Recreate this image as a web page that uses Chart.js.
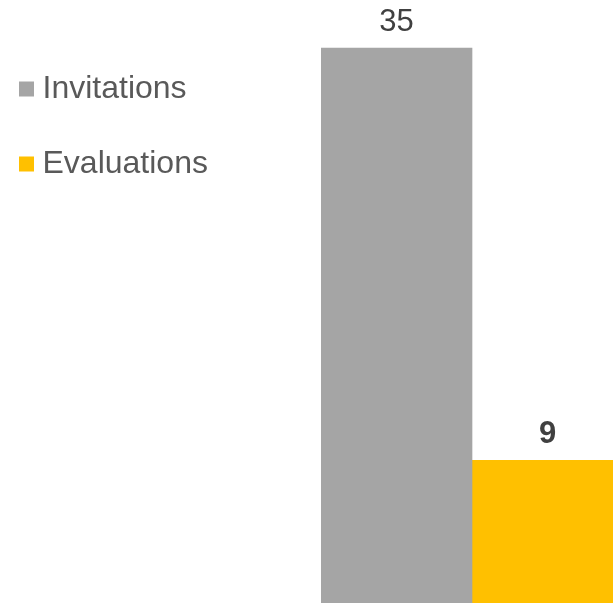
<!DOCTYPE html>
<html>
<head>
<meta charset="utf-8">
<script src="https://cdn.jsdelivr.net/npm/chart.js@4/dist/chart.umd.min.js"></script>
<style>
  html, body { margin: 0; padding: 0; overflow: hidden; background: #fff; }
  #wrap { width: 613px; height: 603px; overflow: hidden; }
</style>
</head>
<body>
<div id="wrap"><canvas id="chart" width="623" height="603"></canvas></div>
<script>
const categories = [''];
const seriesNames = ['Invitations', 'Evaluations'];
const invitations = [35];
const evaluations = [9];
const seriesColors = ['#a5a5a5', '#ffc000'];

// value labels above bars, second one bold like the original
const valueLabels = {
  id: 'valueLabels',
  afterDatasetsDraw(chart, _args, opts) {
    const { ctx } = chart;
    chart.data.datasets.forEach((ds, i) => {
      const meta = chart.getDatasetMeta(i);
      meta.data.forEach((bar, j) => {
        ctx.save();
        ctx.font = `${opts.weights[i]} 31px "Liberation Sans", Arial, sans-serif`;
        ctx.fillStyle = '#404040';
        ctx.textAlign = 'center';
        ctx.textBaseline = 'alphabetic';
        ctx.fillText(String(ds.data[j]), bar.x, bar.y - 17);
        ctx.restore();
      });
    });
  }
};

// the legend takes the left part, bars start at x = 321
const legendWidth = {
  id: 'legendWidth',
  afterInit(chart, _args, opts) {
    const legend = chart.legend;
    const fit = legend.fit;
    legend.fit = function () {
      fit.call(this);
      this.width = opts.width;
    };
  }
};

// eslint-disable-next-line no-new
new Chart(document.getElementById('chart'), {
  type: 'bar',
  data: {
    labels: categories,
    datasets: [{
      label: seriesNames[0],
      data: invitations,
      backgroundColor: seriesColors[0]
    }, {
      label: seriesNames[1],
      data: evaluations,
      backgroundColor: seriesColors[1]
    }]
  },
  options: {
    responsive: false,
    animation: false,
    layout: {
      padding: { left: -16.5, top: 30, right: 0, bottom: 0 }
    },
    datasets: {
      bar: {
        categoryPercentage: 1,
        barPercentage: 1
      }
    },
    scales: {
      x: { display: false },
      y: { display: false, min: 0, max: 36.14 }
    },
    plugins: {
      tooltip: { enabled: false },
      legend: {
        position: 'left',
        align: 'start',
        labels: {
          usePointStyle: true,
          pointStyle: 'rect',
          boxWidth: 0.01,
          boxHeight: 15,
          padding: 43,
          color: '#595959',
          font: { family: '"Liberation Sans", Arial, sans-serif', size: 32 }
        }
      },
      legendWidth: { width: 337.5 },
      valueLabels: { weights: ['normal', 'bold'] }
    }
  },
  plugins: [legendWidth, valueLabels]
});
</script>
</body>
</html>
